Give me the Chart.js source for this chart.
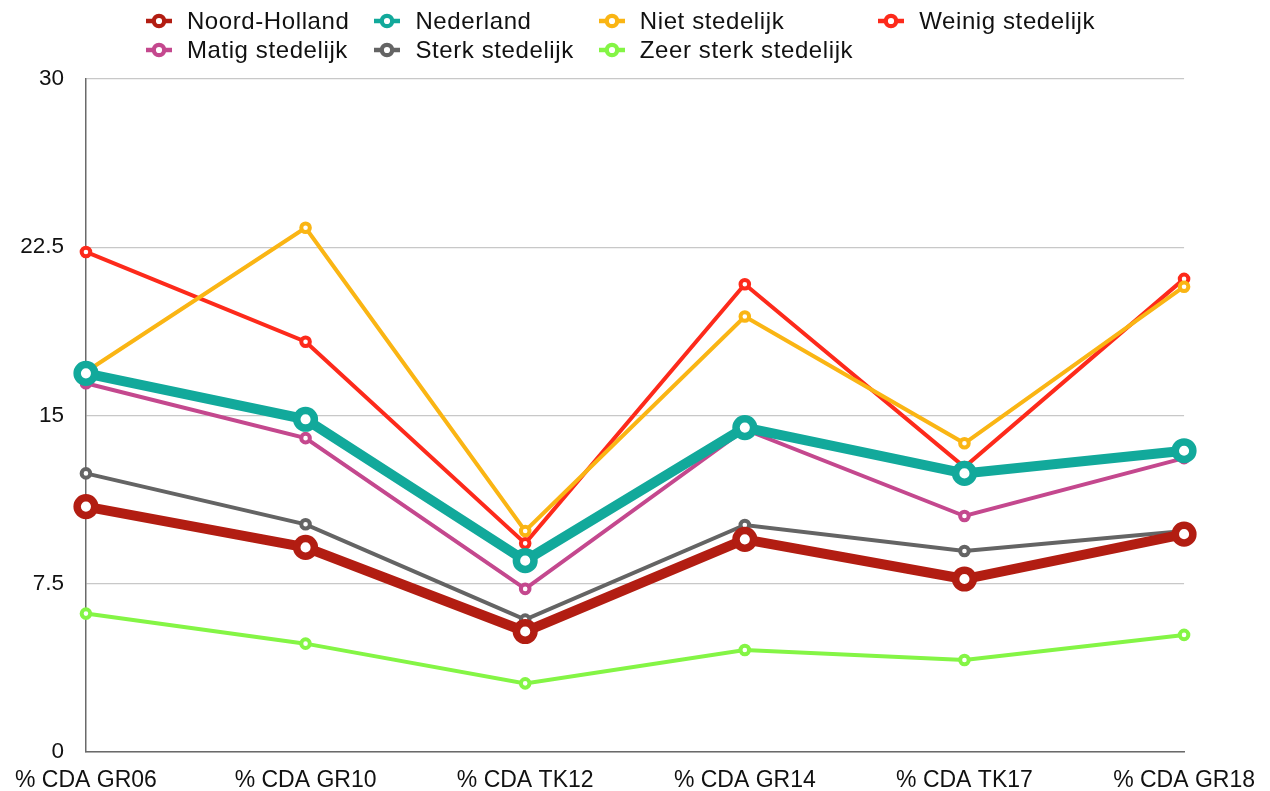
<!DOCTYPE html>
<html>
<head>
<meta charset="utf-8">
<script src="https://cdn.jsdelivr.net/npm/chart.js@4/dist/chart.umd.min.js"></script>
<style>
html,body{margin:0;padding:0;background:#fff;}
#wrap{position:relative;width:1270px;height:791px;}
#legend{position:absolute;left:0;top:6px;width:1241px;display:flex;justify-content:center;}
#legend .grid{display:grid;grid-template-columns:repeat(4,auto);column-gap:25px;grid-auto-rows:29px;}
.item{display:flex;align-items:center;font-family:"Liberation Sans",Arial,sans-serif;font-size:24px;letter-spacing:0.6px;color:#111;white-space:nowrap;}
.item svg{margin-right:15px;flex:none;}
canvas{display:block;}
</style>
</head>
<body>
<div id="wrap">
  <canvas id="c" width="1270" height="791"></canvas>
  <div id="legend"><div class="grid" id="lg"></div></div>
</div>
<script>
const categories = ['% CDA GR06', '% CDA GR10', '% CDA TK12', '% CDA GR14', '% CDA TK17', '% CDA GR18'];
const noordHolland      = [10.94, 9.12, 5.37, 9.48, 7.71, 9.71];
const nederland         = [16.88, 14.83, 8.53, 14.46, 12.42, 13.43];
const nietStedelijk     = [16.95, 23.37, 9.85, 19.41, 13.76, 20.74];
const weinigStedelijk   = [22.29, 18.29, 9.30, 20.85, 12.70, 21.09];
const matigStedelijk    = [16.44, 13.99, 7.27, 14.38, 10.52, 13.10];
const sterkStedelijk    = [12.42, 10.15, 5.90, 10.12, 8.96, 9.85];
const zeerSterkStedelijk= [6.17, 4.83, 3.06, 4.55, 4.10, 5.22];
const seriesNames = ['Noord-Holland', 'Nederland', 'Niet stedelijk', 'Weinig stedelijk', 'Matig stedelijk', 'Sterk stedelijk', 'Zeer sterk stedelijk'];
const yTickLabels = ['0', '7.5', '15', '22.5', '30'];

const seriesValues = [noordHolland, nederland, nietStedelijk, weinigStedelijk, matigStedelijk, sterkStedelijk, zeerSterkStedelijk];
const colors = ['#B21D12', '#12A99B', '#FAB514', '#FD2A1B', '#C4488E', '#646464', '#84F545'];
const thick = [true, true, false, false, false, false, false];

const datasets = seriesNames.map((name, i) => ({
  label: name,
  data: seriesValues[i],
  borderColor: colors[i],
  backgroundColor: '#ffffff',
  pointBackgroundColor: '#ffffff',
  pointBorderColor: colors[i],
  borderWidth: thick[i] ? 10 : 4,
  pointRadius: thick[i] ? 8.8 : 4.3,
  pointBorderWidth: thick[i] ? 7.5 : 4,
  pointHoverRadius: thick[i] ? 8.8 : 4.3,
  tension: 0,
  fill: false,
  clip: false
}));

// HTML legend
const lg = document.getElementById('lg');
seriesNames.forEach((name, i) => {
  const d = document.createElement('div');
  d.className = 'item';
  d.innerHTML = '<svg width="26" height="18" viewBox="0 0 26 18"><line x1="0" y1="9" x2="26" y2="9" stroke="' + colors[i] + '" stroke-width="4.5"/><circle cx="13" cy="9" r="5.2" fill="#fff" stroke="' + colors[i] + '" stroke-width="4.2"/></svg>';
  const s = document.createElement('span');
  s.textContent = name;
  d.appendChild(s);
  lg.appendChild(d);
});

const FONT = '"Liberation Sans", Arial, sans-serif';

new Chart(document.getElementById('c'), {
  type: 'line',
  data: { labels: categories, datasets: datasets },
  options: {
    responsive: false,
    animation: false,
    events: [],
    layout: { padding: { top: 79, right: 85, left: 0, bottom: 0 } },
    plugins: { legend: { display: false }, tooltip: { enabled: false } },
    scales: {
      x: {
        offset: false,
        grid: { display: false, drawTicks: false },
        border: { display: true, color: '#6a6a6a', width: 1.5 },
        ticks: { font: { family: FONT, size: 23 }, color: '#111', padding: 15, maxRotation: 0, autoSkip: false },
        afterFit: s => { s.height = 39; }
      },
      y: {
        min: 0, max: 30,
        grid: { color: '#c8c8c8', lineWidth: 1.2, drawTicks: false },
        border: { display: true, color: '#6a6a6a', width: 1.5 },
        ticks: {
          stepSize: 7.5,
          font: { family: FONT, size: 22.5 },
          color: '#111',
          padding: 22,
          callback: (v) => { const idx = Math.round(v / 7.5); return yTickLabels[idx] !== undefined ? yTickLabels[idx] : ''; }
        },
        afterFit: s => { s.width = 85; }
      }
    }
  }
});
</script>
</body>
</html>
